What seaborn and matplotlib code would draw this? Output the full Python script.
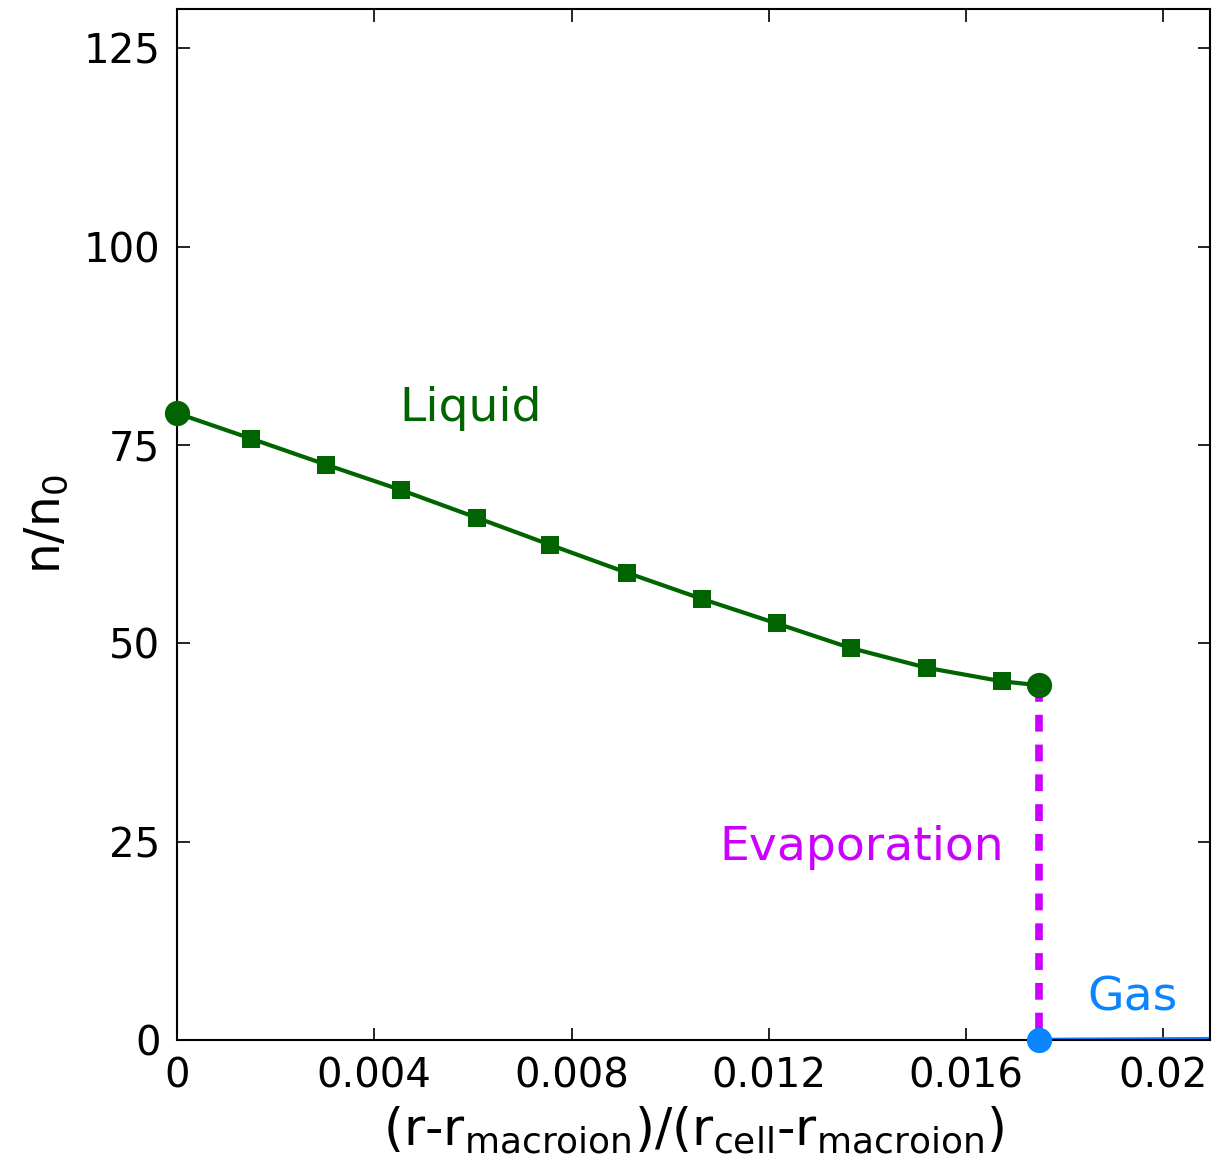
import matplotlib
matplotlib.use("Agg")
import matplotlib.pyplot as plt
import seaborn as sns
import pandas as pd

# Liquid branch: density profile n/n0 versus reduced distance
liquid_x = [0.0, 0.00150, 0.00303, 0.00455, 0.00609, 0.00757, 0.00912,
            0.01064, 0.01216, 0.01366, 0.01521, 0.01673, 0.01748]
liquid_y = [79.0, 75.8, 72.5, 69.3, 65.8, 62.4, 58.9, 55.6, 52.5, 49.4,
            46.9, 45.2, 44.7]
# Gas branch after the jump
gas_x = [0.01748, 0.0210]
gas_y = [0.0, 0.1]
# Evaporation jump
jump_x = [0.01748, 0.01748]
jump_y = [44.7, 0.0]

x_ticks = [0, 0.004, 0.008, 0.012, 0.016, 0.02]
x_tick_labels = ["0", "0.004", "0.008", "0.012", "0.016", "0.02"]
y_ticks = [0, 25, 50, 75, 100, 125]

GREEN = "#006400"
MAGENTA = "#CC00FF"
BLUE = "#0A84FF"

sns.set_style("ticks")
plt.rcParams["font.family"] = ["DejaVu Sans"]
plt.rcParams["mathtext.default"] = "regular"
plt.rcParams["text.color"] = "black"
plt.rcParams["axes.labelcolor"] = "black"

fig = plt.figure(figsize=(12.13, 11.67), dpi=100)
ax = fig.add_axes([0.146, 0.109, 0.8515, 0.8835])

liq = pd.DataFrame({"x": liquid_x, "y": liquid_y})
gas = pd.DataFrame({"x": gas_x, "y": gas_y})

sns.lineplot(data=liq, x="x", y="y", ax=ax, color=GREEN, lw=3.0,
             sort=False, estimator=None)
sns.scatterplot(data=liq.iloc[1:-1], x="x", y="y", ax=ax, marker="s",
                s=170, color=GREEN, edgecolor=GREEN, linewidth=0, zorder=4)
sns.scatterplot(data=liq.iloc[[0, -1]], x="x", y="y", ax=ax, marker="o",
                s=330, color=GREEN, edgecolor=GREEN, linewidth=0, zorder=4,
                clip_on=False)

ax.plot(jump_x, jump_y, color=MAGENTA, lw=5.5, dashes=(2.2, 1.7), zorder=2)

sns.lineplot(data=gas, x="x", y="y", ax=ax, color=BLUE, lw=3.0,
             sort=False, estimator=None)
sns.scatterplot(data=gas.iloc[[0]], x="x", y="y", ax=ax, marker="o",
                s=330, color=BLUE, edgecolor=BLUE, linewidth=0, zorder=5,
                clip_on=False)

ax.text(0.00451, 79.6, "Liquid", color=GREEN, fontsize=34, va="center")
ax.text(0.0110, 24.3, "Evaporation", color=MAGENTA, fontsize=34, va="center")
ax.text(0.01846, 5.3, "Gas", color=BLUE, fontsize=34, va="center")

ax.set_xlim(0, 0.02095)
ax.set_ylim(0, 130)
ax.set_xticks(x_ticks)
ax.set_xticklabels(x_tick_labels)
ax.set_yticks(y_ticks)

ax.tick_params(direction="in", length=9, width=1.2, top=True, right=True,
               labelsize=29, colors="black", pad=12)
for sp in ax.spines.values():
    sp.set_visible(True)
    sp.set_linewidth(1.5)
    sp.set_color("black")

ax.set_xlabel(r"(r-r$_{macroion}$)/(r$_{cell}$-r$_{macroion}$)", fontsize=37,
              labelpad=6, color="black")
ax.set_ylabel(r"n/n$_{0}$", fontsize=35, labelpad=10, color="black")

fig.savefig("out.png", dpi=100)
